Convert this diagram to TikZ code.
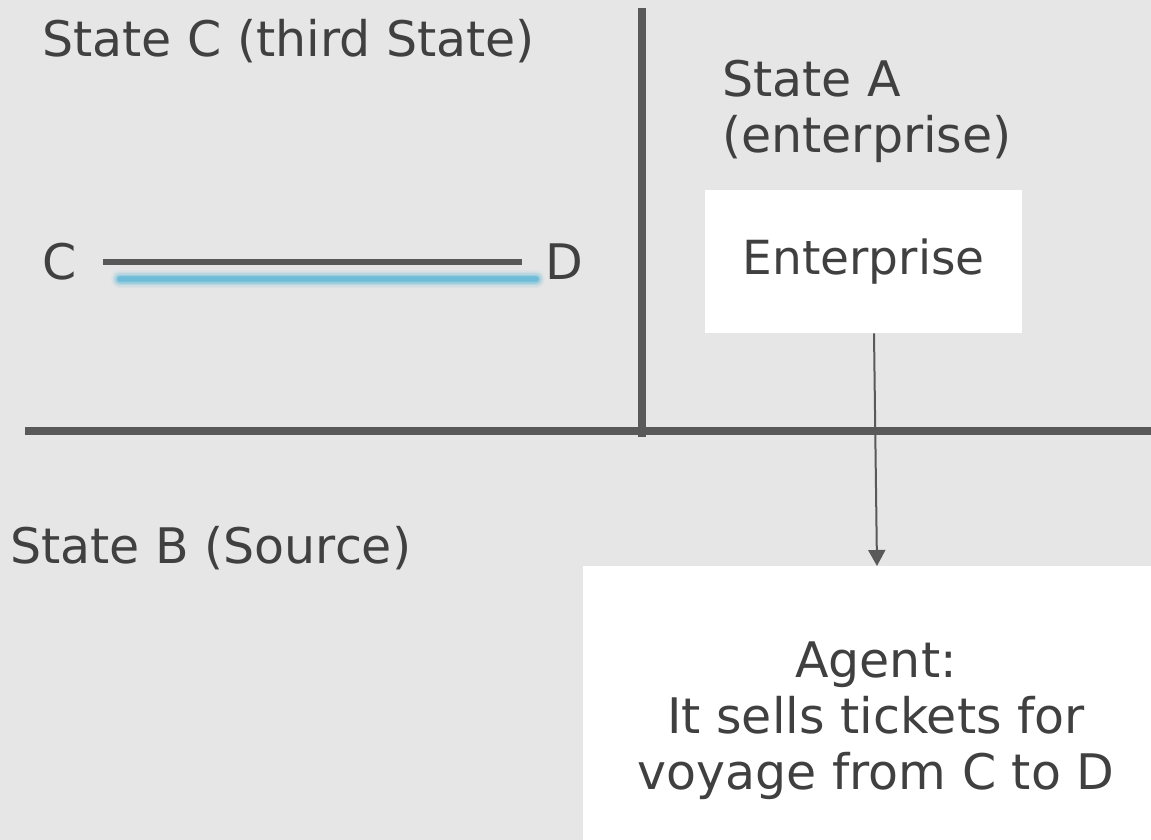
\documentclass[tikz,border=0pt]{standalone}
\usepackage{fontspec}
\setmainfont{DejaVu Sans}
\usetikzlibrary{arrows.meta}
\definecolor{bg}{HTML}{E6E6E6}
\definecolor{ink}{HTML}{404040}
\definecolor{rule}{HTML}{595959}
\definecolor{route}{HTML}{6CBCD8}
\tikzset{
  label text/.style={text=ink, font=\fontsize{49}{56}\selectfont, inner sep=0pt},
  border line/.style={draw=rule, line width=8pt},
  whitebox/.style={fill=white, draw=none, text=ink, font=\fontsize{49}{56}\selectfont, align=center},
  link/.style={draw=rule, line width=2pt, -{Triangle[length=16pt,width=17pt]}},
}
\begin{document}
\begin{tikzpicture}[x=1pt,y=-1pt]
  \fill[bg] (0,0) rectangle (1151,840);
  \useasboundingbox (0,0) rectangle (1151,840);

  % borders between the states
  \coordinate (vtop) at (642,8);
  \coordinate (vbot) at (642,437);
  \coordinate (hl) at (25,431);
  \coordinate (hr) at (1151,431);
  \draw[border line] (vtop) -- (vbot);
  \draw[border line] (hl) -- (hr);

  % state names
  \node[label text, anchor=base west] (sc) at (42,57) {State C (third State)};
  \node[label text, anchor=base west, align=left] (sa) at (722,153) {State A\\(enterprise)};
  \node[label text, anchor=base west] (sb) at (10,563) {State B (Source)};

  % route from C to D
  \node[label text, anchor=west] (c) at (42,262) {C};
  \node[label text, anchor=west] (d) at (545,262) {D};
  \coordinate (r1) at (103,262);
  \coordinate (r2) at (522,262);
  \coordinate (b1) at (120,279);
  \coordinate (b2) at (536,279);
  \foreach \w/\o in {18/0.08, 15/0.12, 12/0.2, 9/0.4, 6/0.7, 4/0.8}
    \draw[route, line width=\w pt, line cap=round, opacity=\o] (b1) -- (b2);
  \draw[rule, line width=6pt] (r1) -- (r2);

  % boxes
  \node[whitebox, font=\fontsize{47}{56}\selectfont, minimum width=317pt, minimum height=143pt, anchor=north west] (ent) at (705,190) {Enterprise};
  \path[fill=white] (583,566) rectangle (1160,850);
  \node[whitebox, anchor=center, inner sep=0pt] (agent) at (876,721) {Agent:\\It sells tickets for\\voyage from C to D};
  \coordinate (agtop) at (877,566);

  \draw[link] (ent.south -| 874,0) -- (agtop);
\end{tikzpicture}
\end{document}
